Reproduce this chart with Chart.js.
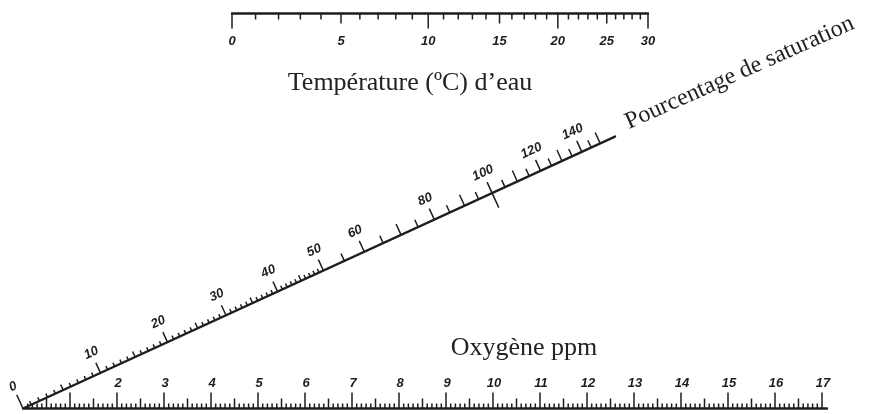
<!DOCTYPE html>
<html lang="fr">
<head>
<meta charset="UTF-8">
<title>Nomogramme - oxygène dissous</title>
<script src="https://cdn.jsdelivr.net/npm/chart.js"></script>
<style>
  html, body { margin: 0; padding: 0; background: #fff; }
  #wrap { width: 892px; height: 414px; position: relative; }
</style>
</head>
<body>
<div id="wrap"><canvas id="nomo"></canvas></div>
<script>
// ---- values ----
// temperature scale (deg C), labelled every 5, ticked every 1
const temperatureLabels = [0, 5, 10, 15, 20, 25, 30];
const temperatureTicks = [0, 1, 2, 3, 4, 5, 6, 7, 8, 9, 10, 11, 12, 13, 14, 15,
                          16, 17, 18, 19, 20, 21, 22, 23, 24, 25, 26, 27, 28, 29, 30];
// oxygen (ppm) at 100 % saturation for each degree above - this is what spaces the top scale
const oxygenAtSaturation = [14.62, 14.22, 13.83, 13.46, 13.11, 12.77, 12.45, 12.14, 11.84, 11.56,
                            11.29, 11.03, 10.78, 10.54, 10.31, 10.08, 9.87, 9.66, 9.47, 9.28,
                            9.09, 8.91, 8.74, 8.58, 8.42, 8.26, 8.11, 7.97, 7.83, 7.69, 7.56];
// oxygen scale (ppm)
const oxygenRange = [0, 17];
const oxygenLabels = [2, 3, 4, 5, 6, 7, 8, 9, 10, 11, 12, 13, 14, 15, 16, 17];
// saturation scale (%)
const saturationRange = [0, 150];
const saturationLabels = [0, 10, 20, 30, 40, 50, 60, 80, 100, 120, 140];

// ---- layout (in picture units, mapped through the chart scales) ----
const OXY = { x0: 23, y: 408.5, perUnit: 47.0, lineEnd: 827 };
const TEMP = { x0: 232, x1: 648, y: 13.5 };
const SAT = { x0: 23, y0: 408.5, ang: 24.67 * Math.PI / 180, K: 8.35, r: 0.0078, lineEnd: 592 };
const ink = '#1e1e1e';
const numFont = 'italic bold 13px "Liberation Sans"';
const titleFont = '26px "Liberation Serif"';

const nx = -Math.sin(SAT.ang), ny = -Math.cos(SAT.ang);  // perpendicular, up-left

function oxyX(v) { return OXY.x0 + v * OXY.perUnit; }
function tempX(t) {
  const i = temperatureTicks.indexOf(t);
  const c0 = oxygenAtSaturation[0], c1 = oxygenAtSaturation[oxygenAtSaturation.length - 1];
  return TEMP.x0 + (c0 - oxygenAtSaturation[i]) / (c0 - c1) * (TEMP.x1 - TEMP.x0);
}
function satDx(s) { return SAT.K * s / (1 + SAT.r * s); }
function satPt(s) {
  const dx = satDx(s);
  return { x: SAT.x0 + dx, y: SAT.y0 - dx * Math.tan(SAT.ang) };
}

// ---- build segments ----
const GAP = { x: null, y: null };
const axisLines = [
  { x: oxyX(oxygenRange[0]), y: OXY.y }, { x: OXY.lineEnd, y: OXY.y }, GAP,
  { x: tempX(0), y: TEMP.y }, { x: tempX(30), y: TEMP.y }, GAP,
  { x: SAT.x0, y: SAT.y0 }, { x: SAT.x0 + SAT.lineEnd, y: SAT.y0 - SAT.lineEnd * Math.tan(SAT.ang) }
];

const tickSegs = [];
function seg(a, b) { tickSegs.push(a, b, GAP); }

for (let i = 1; i <= oxygenRange[1] * 10; i++) {
  const x = oxyX(i / 10);
  const len = i % 10 === 0 ? 16 : (i % 5 === 0 ? 10 : 5);
  seg({ x: x, y: OXY.y }, { x: x, y: OXY.y - len });
}
temperatureTicks.forEach(t => {
  const x = tempX(t);
  const len = t % 10 === 0 ? 15 : (t % 5 === 0 ? 10 : 6);
  seg({ x: x, y: TEMP.y }, { x: x, y: TEMP.y + len });
});
for (let s = saturationRange[0]; s <= saturationRange[1]; s += (s < 50 ? 1 : 5)) {
  const p = satPt(s);
  let up, down = 0;
  if (s === 0) up = 15;
  else if (s < 50) up = s % 10 === 0 ? 11 : (s % 5 === 0 ? 6 : 4);
  else up = s % 10 === 0 ? 12 : 8;
  if (s === 100) { up = 12; down = 16; }
  seg({ x: p.x - nx * down, y: p.y - ny * down }, { x: p.x + nx * up, y: p.y + ny * up });
}

// ---- labels and titles ----
const labelPlugin = {
  id: 'nomoLabels',
  afterDatasetsDraw(chart) {
    const { ctx } = chart;
    const X = v => chart.scales.x.getPixelForValue(v);
    const Y = v => chart.scales.y.getPixelForValue(v);
    ctx.save();
    ctx.fillStyle = ink;
    ctx.textAlign = 'center';
    ctx.textBaseline = 'middle';
    ctx.font = numFont;

    oxygenLabels.forEach(v => ctx.fillText(String(v), X(oxyX(v) + 1), Y(383)));
    temperatureLabels.forEach(t => ctx.fillText(String(t), X(tempX(t)), Y(41)));

    saturationLabels.forEach(s => {
      const p = satPt(s);
      const off = s === 0 ? 24 : 22;
      ctx.save();
      ctx.translate(X(p.x + nx * off), Y(p.y + ny * off));
      ctx.rotate(-SAT.ang);
      ctx.fillText(String(s), 0, 0);
      ctx.restore();
    });

    ctx.font = titleFont;
    ctx.fillStyle = '#222';
    ctx.textBaseline = 'alphabetic';
    ctx.fillText('Température (ºC) d’eau', X(410), Y(90));
    ctx.fillText('Oxygène ppm', X(524), Y(355));

    ctx.save();
    ctx.translate(X(629), Y(129));
    ctx.rotate(-24 * Math.PI / 180);
    ctx.textAlign = 'left';
    ctx.font = '24px "Liberation Serif"';
    ctx.fillText('Pourcentage de saturation', 0, 0);
    ctx.restore();

    ctx.restore();
  }
};

new Chart(document.getElementById('nomo'), {
  type: 'scatter',
  data: {
    datasets: [
      { data: axisLines, showLine: true, spanGaps: false, borderColor: ink, borderWidth: 2.4,
        pointRadius: 0, borderCapStyle: 'round' },
      { data: tickSegs, showLine: true, spanGaps: false, borderColor: ink, borderWidth: 1.5,
        pointRadius: 0 }
    ]
  },
  options: {
    responsive: true,
    maintainAspectRatio: false,
    animation: false,
    layout: { padding: 0 },
    plugins: { legend: { display: false }, tooltip: { enabled: false } },
    events: [],
    scales: {
      x: { type: 'linear', min: 0, max: 892, display: false },
      y: { type: 'linear', min: 0, max: 414, reverse: true, display: false }
    }
  },
  plugins: [labelPlugin]
});
</script>
</body>
</html>
